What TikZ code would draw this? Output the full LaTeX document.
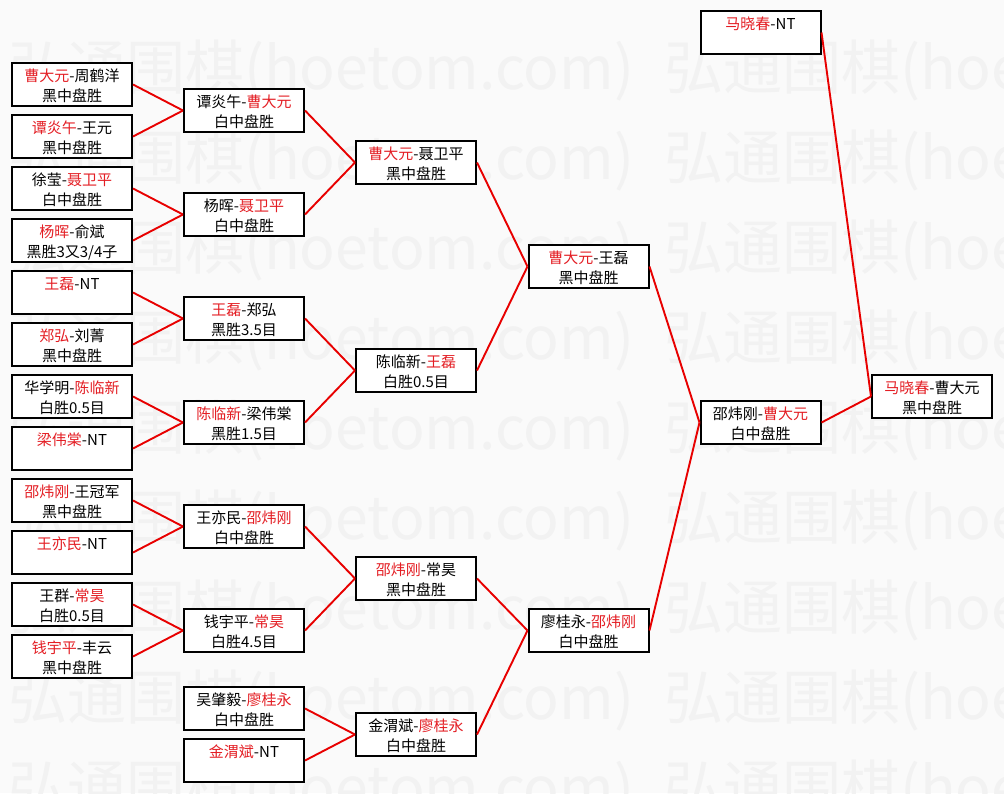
\documentclass[tikz,border=0pt]{standalone}
\usepackage{fontspec}
\setmainfont{Noto Sans CJK SC}
\definecolor{wincol}{RGB}{228,30,36}
\definecolor{linkcol}{RGB}{232,0,0}
\definecolor{bgcol}{RGB}{250,250,250}
\definecolor{wmcol}{RGB}{242,242,242}
\newcommand{\wn}[1]{\textcolor{wincol}{#1}}
\newcommand{\wmark}{弘通围棋(hoetom.com)}
\tikzset{
	game/.style={draw, fill=white, line width=2pt, minimum width=120pt, minimum height=43pt,
		inner sep=0pt, align=center, font=\fontsize{15}{20}\selectfont,
		text height=36pt, text depth=2pt},
	link/.style={draw=linkcol, line width=1.9pt},
	wm/.style={anchor=base west, inner sep=0pt, text=wmcol, font=\fontsize{59}{59}\selectfont}
}

\begin{document}
\begin{tikzpicture}[x=1pt, y=-1pt]

	\fill[bgcol] (0,0) rectangle (1004,793) ;
	\useasboundingbox (0,0) rectangle (1004,793) ;

	    \begin{scope}
		    \node[wm] (w1) at (8,89) {\wmark\hspace{30pt}\wmark} ;
		    \node[wm] (w2) at (8,179) {\wmark\hspace{30pt}\wmark} ;
		    \node[wm] (w3) at (8,269) {\wmark\hspace{30pt}\wmark} ;
		    \node[wm] (w4) at (8,359) {\wmark\hspace{30pt}\wmark} ;
		    \node[wm] (w5) at (8,449) {\wmark\hspace{30pt}\wmark} ;
		    \node[wm] (w6) at (8,539) {\wmark\hspace{30pt}\wmark} ;
		    \node[wm] (w7) at (8,629) {\wmark\hspace{30pt}\wmark} ;
		    \node[wm] (w8) at (8,719) {\wmark\hspace{30pt}\wmark} ;
		    \node[wm] (w9) at (8,809) {\wmark\hspace{30pt}\wmark} ;
	    \end{scope}

		    % round 1
		    \node[game] (r1a) at (72,84.5) {\wn{曹大元}-周鹤洋\\黑中盘胜} ;
		    \node[game] (r1b) at (72,136.5) {\wn{谭炎午}-王元\\黑中盘胜} ;
		    \node[game] (r1c) at (72,188.5) {徐莹-\wn{聂卫平}\\白中盘胜} ;
		    \node[game] (r1d) at (72,240.5) {\wn{杨晖}-俞斌\\黑胜3又3/4子} ;
		    \node[game] (r1e) at (72,292.5) {\wn{王磊}-NT\\~} ;
		    \node[game] (r1f) at (72,344.5) {\wn{郑弘}-刘菁\\黑中盘胜} ;
		    \node[game] (r1g) at (72,396.5) {华学明-\wn{陈临新}\\白胜0.5目} ;
		    \node[game] (r1h) at (72,448.5) {\wn{梁伟棠}-NT\\~} ;
		    \node[game] (r1i) at (72,500.5) {\wn{邵炜刚}-王冠军\\黑中盘胜} ;
		    \node[game] (r1j) at (72,552.5) {\wn{王亦民}-NT\\~} ;
		    \node[game] (r1k) at (72,604.5) {王群-\wn{常昊}\\白胜0.5目} ;
		    \node[game] (r1l) at (72,656.5) {\wn{钱宇平}-丰云\\黑中盘胜} ;

		    % round 2
		    \node[game] (r2a) at (244,110.5) {谭炎午-\wn{曹大元}\\白中盘胜} ;
		    \node[game] (r2b) at (244,214.5) {杨晖-\wn{聂卫平}\\白中盘胜} ;
		    \node[game] (r2c) at (244,318.5) {\wn{王磊}-郑弘\\黑胜3.5目} ;
		    \node[game] (r2d) at (244,422.5) {\wn{陈临新}-梁伟棠\\黑胜1.5目} ;
		    \node[game] (r2e) at (244,526.5) {王亦民-\wn{邵炜刚}\\白中盘胜} ;
		    \node[game] (r2f) at (244,630.5) {钱宇平-\wn{常昊}\\白胜4.5目} ;
		    \node[game] (r2g) at (244,708.5) {吴肇毅-\wn{廖桂永}\\白中盘胜} ;
		    \node[game] (r2h) at (244,760.5) {\wn{金渭斌}-NT\\~} ;

		    % round 3
		    \node[game] (r3a) at (416,162.5) {\wn{曹大元}-聂卫平\\黑中盘胜} ;
		    \node[game] (r3b) at (416,370.5) {陈临新-\wn{王磊}\\白胜0.5目} ;
		    \node[game] (r3c) at (416,578.5) {\wn{邵炜刚}-常昊\\黑中盘胜} ;
		    \node[game] (r3d) at (416,734.5) {金渭斌-\wn{廖桂永}\\白中盘胜} ;

		    % round 4 and final
		    \node[game] (r4a) at (588.5,266.5) {\wn{曹大元}-王磊\\黑中盘胜} ;
		    \node[game] (r4b) at (588.5,630.5) {廖桂永-\wn{邵炜刚}\\白中盘胜} ;
		    \node[game] (r5a) at (760.5,422.5) {邵炜刚-\wn{曹大元}\\白中盘胜} ;
		    \node[game] (r5b) at (760.5,32.5) {\wn{马晓春}-NT\\~} ;
		    \node[game] (fin) at (932,396.5) {\wn{马晓春}-曹大元\\黑中盘胜} ;

	\draw[link] (r1a.east) -- (r2a.west) ;
	\draw[link] (r1b.east) -- (r2a.west) ;
	\draw[link] (r1c.east) -- (r2b.west) ;
	\draw[link] (r1d.east) -- (r2b.west) ;
	\draw[link] (r1e.east) -- (r2c.west) ;
	\draw[link] (r1f.east) -- (r2c.west) ;
	\draw[link] (r1g.east) -- (r2d.west) ;
	\draw[link] (r1h.east) -- (r2d.west) ;
	\draw[link] (r1i.east) -- (r2e.west) ;
	\draw[link] (r1j.east) -- (r2e.west) ;
	\draw[link] (r1k.east) -- (r2f.west) ;
	\draw[link] (r1l.east) -- (r2f.west) ;
	\draw[link] (r2a.east) -- (r3a.west) ;
	\draw[link] (r2b.east) -- (r3a.west) ;
	\draw[link] (r2c.east) -- (r3b.west) ;
	\draw[link] (r2d.east) -- (r3b.west) ;
	\draw[link] (r2e.east) -- (r3c.west) ;
	\draw[link] (r2f.east) -- (r3c.west) ;
	\draw[link] (r2g.east) -- (r3d.west) ;
	\draw[link] (r2h.east) -- (r3d.west) ;
	\draw[link] (r3a.east) -- (r4a.west) ;
	\draw[link] (r3b.east) -- (r4a.west) ;
	\draw[link] (r3c.east) -- (r4b.west) ;
	\draw[link] (r3d.east) -- (r4b.west) ;
	\draw[link] (r4a.east) -- (r5a.west) ;
	\draw[link] (r4b.east) -- (r5a.west) ;
	\draw[link] (r5b.east) -- (fin.west) ;
	\draw[link] (r5a.east) -- (fin.west) ;

\end{tikzpicture}
\end{document}
